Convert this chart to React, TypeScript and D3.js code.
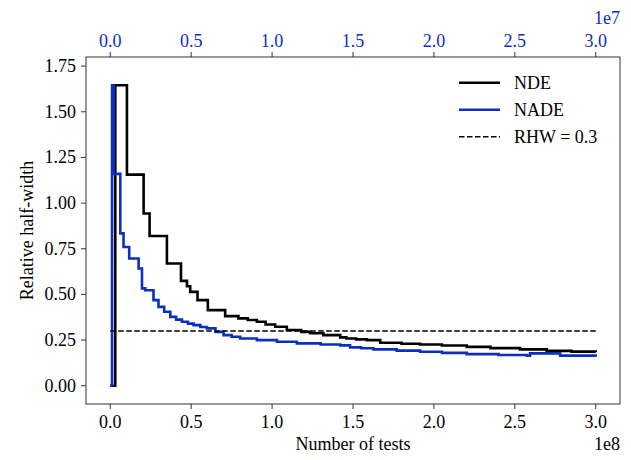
import React from "react";
import * as d3 from "d3";

// number of tests, in units of 1e8
const ndeX = [0, 0.031, 0.103, 0.206, 0.243, 0.35, 0.437, 0.474, 0.494, 0.539, 0.603, 0.71, 0.792, 0.85, 0.906, 0.96, 1.019, 1.091, 1.18, 1.235, 1.317, 1.421, 1.459, 1.52, 1.586, 1.668, 1.8, 1.915, 2.05, 2.203, 2.35, 2.532, 2.697, 2.85, 3.0];
const ndeY = [0, 1.645, 1.156, 0.943, 0.82, 0.669, 0.574, 0.545, 0.514, 0.469, 0.414, 0.381, 0.369, 0.36, 0.35, 0.335, 0.323, 0.305, 0.295, 0.287, 0.277, 0.265, 0.259, 0.254, 0.25, 0.235, 0.23, 0.226, 0.22, 0.213, 0.206, 0.199, 0.191, 0.187, 0.184];

const nadeX = [0, 0.011, 0.021, 0.062, 0.082, 0.117, 0.175, 0.196, 0.216, 0.267, 0.298, 0.333, 0.371, 0.407, 0.443, 0.48, 0.515, 0.557, 0.597, 0.65, 0.7, 0.75, 0.803, 0.906, 1.03, 1.153, 1.3, 1.421, 1.482, 1.55, 1.626, 1.77, 1.915, 2.05, 2.203, 2.4, 2.574, 2.594, 2.78, 3.0];
const nadeY = [0, 1.645, 1.16, 0.834, 0.76, 0.697, 0.642, 0.533, 0.523, 0.469, 0.432, 0.405, 0.377, 0.362, 0.35, 0.34, 0.332, 0.322, 0.314, 0.295, 0.277, 0.268, 0.259, 0.25, 0.241, 0.232, 0.226, 0.221, 0.21, 0.205, 0.199, 0.192, 0.186, 0.18, 0.173, 0.168, 0.164, 0.177, 0.165, 0.159];

const rhw = 0.3;
const bottomTicks = [0, 0.5, 1.0, 1.5, 2.0, 2.5, 3.0];
const topTicks = [0, 0.5, 1.0, 1.5, 2.0, 2.5, 3.0];
const yTicks = [0, 0.25, 0.5, 0.75, 1.0, 1.25, 1.5, 1.75];
const legendItems = ["NDE", "NADE", "RHW = 0.3"];

const BLUE = "#0c2fbd";
const AXIS = "#333";
const SERIF = '"Times New Roman", "Liberation Serif", Tinos, serif';
const txt = { fontFamily: SERIF, fontSize: 18 };

// page coordinates minus the body's 8px margin
const O = 8;
const left = 86 - O, right = 620 - O, top = 57 - O, bottom = 404 - O;

const App = () => {
  const x = d3.scaleLinear().domain([-0.15, 3.15]).range([left, right]);
  const y = d3.scaleLinear().domain([-0.1, 1.8]).range([bottom, top]);

  const line = d3
    .line<[number, number]>()
    .x((d) => x(d[0]))
    .y((d) => y(d[1]))
    .curve(d3.curveStepAfter);

  const nde: [number, number][] = ndeX.map((v, i) => [v, ndeY[i]]);
  const nade: [number, number][] = nadeX.map((v, i) => [v, nadeY[i]]);

  return (
    <svg width={623} height={452} fontFamily={SERIF}>
      <path d={line(nde) || ""} fill="none" stroke="black" strokeWidth={2.6} />
      <path d={line(nade) || ""} fill="none" stroke={BLUE} strokeWidth={2.6} />
      <line
        x1={x(0)} x2={x(3)} y1={y(rhw)} y2={y(rhw)}
        stroke="black" strokeWidth={1.6} strokeDasharray="5.5,2.5"
      />

      <rect
        x={left} y={top} width={right - left} height={bottom - top}
        fill="none" stroke={AXIS} strokeWidth={1}
      />

      {/* bottom axis */}
      {bottomTicks.map((t) => (
        <line key={"bl" + t} x1={x(t)} x2={x(t)} y1={bottom} y2={bottom + 5} stroke={AXIS} />
      ))}
      {bottomTicks.map((t) => (
        <text key={"bt" + t} x={x(t)} y={bottom + 24} textAnchor="middle" fontFamily={SERIF} style={txt}>
          {t.toFixed(1)}
        </text>
      ))}
      <text x={(left + right) / 2} y={450 - O} textAnchor="middle" fontFamily={SERIF} style={txt}>
        Number of tests
      </text>
      <text x={right} y={450 - O} textAnchor="end" fontFamily={SERIF} style={txt}>
        1e8
      </text>

      {/* top axis, in units of 1e7 */}
      {topTicks.map((t) => (
        <line key={"tl" + t} x1={x(t)} x2={x(t)} y1={top} y2={top - 5} stroke={BLUE} />
      ))}
      {topTicks.map((t) => (
        <text key={"tt" + t} x={x(t)} y={top - 10} textAnchor="middle" fill={BLUE} fontFamily={SERIF} style={txt}>
          {t.toFixed(1)}
        </text>
      ))}
      <text x={right} y={24 - O} textAnchor="end" fill={BLUE} fontFamily={SERIF} style={txt}>
        1e7
      </text>

      {/* left axis */}
      {yTicks.map((t) => (
        <line key={"yl" + t} x1={left} x2={left - 5} y1={y(t)} y2={y(t)} stroke={AXIS} />
      ))}
      {yTicks.map((t) => (
        <text key={"yt" + t} x={left - 10} y={y(t) + 6} textAnchor="end" fontFamily={SERIF} style={txt}>
          {t.toFixed(2)}
        </text>
      ))}
      <text
        transform={`translate(${33 - O}, ${(top + bottom) / 2}) rotate(-90)`}
        textAnchor="middle"
        fontFamily={SERIF}
        style={txt}
      >
        Relative half-width
      </text>

      {/* legend */}
      {legendItems.map((name, i) => {
        const ly = 82.7 - O + i * 27;
        return (
          <line
            key={"ll" + name}
            x1={459 - O} x2={500 - O} y1={ly} y2={ly}
            stroke={i === 1 ? BLUE : "black"}
            strokeWidth={i === 2 ? 1.6 : 2.6}
            strokeDasharray={i === 2 ? "5.5,2.5" : undefined}
          />
        );
      })}
      {legendItems.map((name, i) => (
        <text key={"lt" + name} x={514 - O} y={82.7 - O + i * 27 + 6} fontFamily={SERIF} style={txt}>
          {name}
        </text>
      ))}
    </svg>
  );
};

export default App;
